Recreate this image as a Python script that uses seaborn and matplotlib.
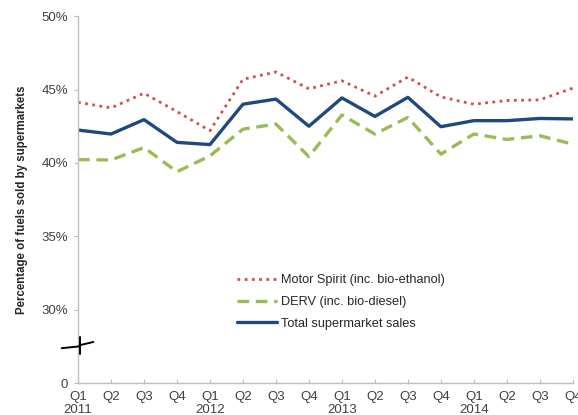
import numpy as np
import pandas as pd
import seaborn as sns
import matplotlib.pyplot as plt

quarters = ["Q1\n2011", "Q2", "Q3", "Q4", "Q1\n2012", "Q2", "Q3", "Q4",
            "Q1\n2013", "Q2", "Q3", "Q4", "Q1\n2014", "Q2", "Q3", "Q4"]
motor_spirit = [44.13, 43.75, 44.75, 43.5, 42.2, 45.7, 46.2, 45.05,
                45.6, 44.55, 45.85, 44.5, 44.0, 44.25, 44.3, 45.1]
derv = [40.23, 40.2, 41.05, 39.4, 40.48, 42.3, 42.65, 40.43,
        43.27, 41.97, 43.1, 40.6, 41.97, 41.6, 41.85, 41.28]
total = [42.24, 41.97, 42.95, 41.4, 41.25, 44.0, 44.35, 42.5,
         44.43, 43.17, 44.47, 42.47, 42.88, 42.88, 43.03, 43.0]
ytick_vals = [25, 30, 35, 40, 45, 50]
ytick_labels = ["0", "30%", "35%", "40%", "45%", "50%"]

sns.set_style("white")
plt.rcParams['font.family'] = ['Liberation Sans', 'DejaVu Sans']

df = pd.DataFrame({"x": np.arange(len(quarters)),
                   "Motor Spirit (inc. bio-ethanol)": motor_spirit,
                   "DERV (inc. bio-diesel)": derv,
                   "Total supermarket sales": total})

fig = plt.figure(figsize=(5.78, 4.15), dpi=100)
ax = fig.add_axes([0.135, 0.077, 0.856, 0.884])

sns.lineplot(data=df, x="x", y="Motor Spirit (inc. bio-ethanol)", ax=ax,
             color="#d0504d", linestyle=(0, (1, 1.6)), linewidth=2.0,
             label="Motor Spirit (inc. bio-ethanol)")
sns.lineplot(data=df, x="x", y="DERV (inc. bio-diesel)", ax=ax,
             color="#9bbb59", linestyle=(0, (3.5, 2)), linewidth=2.4,
             label="DERV (inc. bio-diesel)")
sns.lineplot(data=df, x="x", y="Total supermarket sales", ax=ax,
             color="#1f497d", linewidth=2.4,
             label="Total supermarket sales")

ax.set_xlim(0, len(quarters) - 1)
ax.set_ylim(25, 50)
ax.set_yticks(ytick_vals)
ax.set_yticklabels(ytick_labels)
ax.set_xticks(df["x"])
ax.set_xticklabels(quarters, linespacing=1.1)
ax.set_xlabel("")
ax.set_ylabel("Percentage of fuels sold by supermarkets", fontsize=8.3,
              fontweight="bold", labelpad=10)

for s in ["top", "right"]:
    ax.spines[s].set_visible(False)
for s in ["left", "bottom"]:
    ax.spines[s].set_color("#bfbfbf")
    ax.spines[s].set_linewidth(1.0)

ax.tick_params(axis="y", direction="out", length=3, color="#bfbfbf",
               labelsize=9.5, labelcolor="#404040", pad=4)
ax.tick_params(axis="x", direction="in", length=3, color="#bfbfbf",
               labelsize=9.5, labelcolor="#404040", pad=6)
ax.tick_params(axis="y", left=True)
ax.tick_params(axis="x", bottom=True)

# axis break marker
ax.plot([-0.033, 0.003], [0.095, 0.1], transform=ax.transAxes,
        color="black", linewidth=1.4, clip_on=False, zorder=5)
ax.plot([0.003, 0.003], [0.08, 0.125], transform=ax.transAxes,
        color="black", linewidth=1.4, clip_on=False, zorder=5)
ax.plot([0.003, 0.031], [0.103, 0.112], transform=ax.transAxes,
        color="black", linewidth=1.4, clip_on=False, zorder=5)

leg = ax.legend(loc="upper left", bbox_to_anchor=(0.31, 0.31), frameon=False,
                fontsize=9.2, handlelength=3.2, handletextpad=0.3,
                labelspacing=0.75, borderaxespad=0)
for t in leg.get_texts():
    t.set_color("#262626")

fig.savefig("out.png", dpi=100)
